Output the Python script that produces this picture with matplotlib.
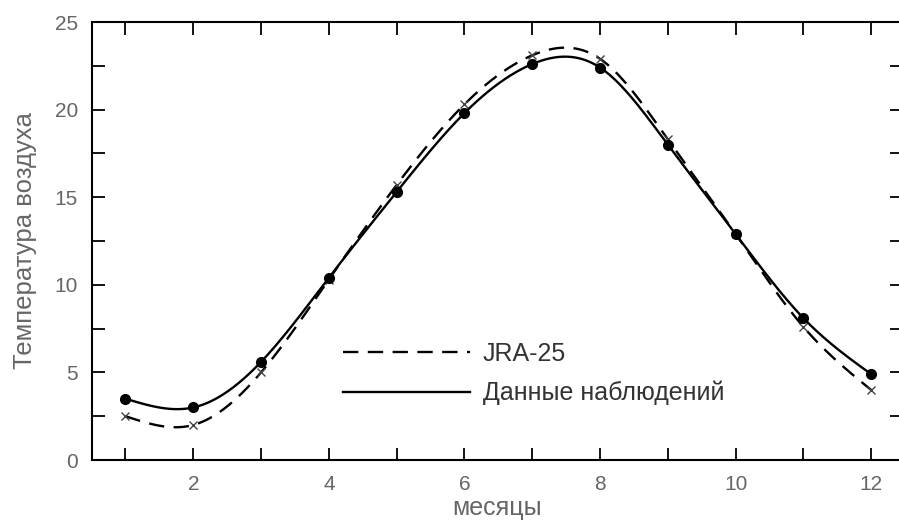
import numpy as np
import matplotlib
matplotlib.use('Agg')
import matplotlib.pyplot as plt
from matplotlib.ticker import MultipleLocator

months = [1, 2, 3, 4, 5, 6, 7, 8, 9, 10, 11, 12]
observed = [3.5, 3.0, 5.6, 10.4, 15.3, 19.8, 22.6, 22.4, 18.0, 12.9, 8.1, 4.9]
jra25 = [2.5, 2.0, 5.0, 10.3, 15.7, 20.3, 23.1, 22.9, 18.3, 12.9, 7.6, 4.0]


def spline(x, y, n=400):
    # natural cubic spline, only for drawing the smooth line
    x = np.asarray(x, float)
    y = np.asarray(y, float)
    k = len(x)
    h = np.diff(x)
    A = np.zeros((k, k))
    b = np.zeros(k)
    A[0, 0] = A[-1, -1] = 1
    for i in range(1, k - 1):
        A[i, i - 1] = h[i - 1]
        A[i, i] = 2 * (h[i - 1] + h[i])
        A[i, i + 1] = h[i]
        b[i] = 3 * ((y[i + 1] - y[i]) / h[i] - (y[i] - y[i - 1]) / h[i - 1])
    c = np.linalg.solve(A, b)
    xs = np.linspace(x[0], x[-1], n)
    idx = np.clip(np.searchsorted(x, xs) - 1, 0, k - 2)
    dx = xs - x[idx]
    hb = h[idx]
    bb = (y[idx + 1] - y[idx]) / hb - hb * (2 * c[idx] + c[idx + 1]) / 3
    dd = (c[idx + 1] - c[idx]) / (3 * hb)
    ys = y[idx] + bb * dx + c[idx] * dx ** 2 + dd * dx ** 3
    return xs, ys


plt.rcParams['font.family'] = ['Liberation Sans', 'DejaVu Sans']
gray = '#666666'

fig = plt.figure(figsize=(8.99, 5.29), dpi=100)
ax = fig.add_axes([0.1023, 0.1304, 0.9007, 0.828])

xs, ys = spline(months, jra25)
ax.plot(xs, ys, color='black', lw=1.7, ls=(0, (6.5, 4)), label='JRA-25')
ax.plot(months, jra25, ls='none', marker='x', ms=6, mew=1, color='#444444')

xs, ys = spline(months, observed)
ax.plot(xs, ys, color='black', lw=1.7, label='Данные наблюдений')
ax.plot(months, observed, ls='none', marker='o', ms=7, color='black')

ax.set_xlim(0.506, 12.45)
ax.set_ylim(0, 25)
ax.xaxis.set_major_locator(MultipleLocator(2))
ax.xaxis.set_minor_locator(MultipleLocator(1))
ax.yaxis.set_major_locator(MultipleLocator(5))
ax.yaxis.set_minor_locator(MultipleLocator(2.5))
ax.tick_params(which='both', direction='in', top=True, right=True,
               length=9, width=1.3, labelsize=15, labelcolor=gray)
ax.tick_params(axis='x', pad=11)
ax.tick_params(axis='y', pad=10)
for s in ax.spines.values():
    s.set_linewidth(1.5)

ax.set_xlabel('месяцы', fontsize=18, color=gray, labelpad=1)
ax.set_ylabel('Температура воздуха', fontsize=18.5, color=gray, labelpad=13)

leg = ax.legend(loc='upper left', bbox_to_anchor=(0.31, 0.27), frameon=False,
                fontsize=18, handlelength=5.1, handletextpad=0.5,
                labelspacing=0.6, borderpad=0, borderaxespad=0)
for t in leg.get_texts():
    t.set_color('#333333')

fig.savefig('out.png', dpi=100)
